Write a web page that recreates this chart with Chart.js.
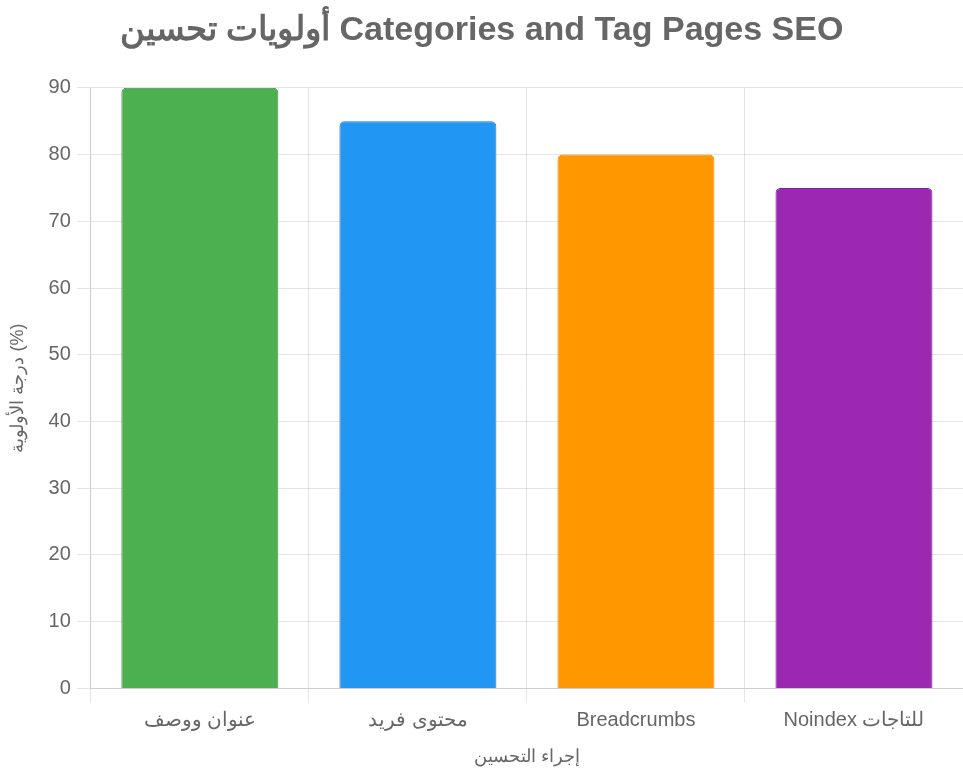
<!DOCTYPE html>
<html>
<head>
<meta charset="utf-8">
<script src="https://cdn.jsdelivr.net/npm/chart.js@4"></script>
<style>
  html, body { margin: 0; padding: 0; background: #fff; }
  #wrap { width: 963px; height: 779px; }
</style>
</head>
<body>
<div id="wrap"><canvas id="seoChart"></canvas></div>
<script>
  "use strict";

  var categories = ['عنوان ووصف', 'محتوى فريد', 'Breadcrumbs', 'Noindex للتاجات'];
  var priorityValues = [90, 85, 80, 75];
  var barColors = ['#4CAF50', '#2196F3', '#FF9800', '#9C27B0'];
  var barBorders = ['#388E3C', '#1976D2', '#F57C00', '#7B1FA2'];

  Chart.defaults.font.family = '"Liberation Sans", Arial, sans-serif';
  Chart.defaults.color = '#666';

  var ctx = document.getElementById('seoChart').getContext('2d');
  window.seoChart = new Chart(ctx, {
    type: 'bar',
    data: {
      labels: categories,
      datasets: [{
        label: 'درجة الأولوية',
        data: priorityValues,
        backgroundColor: barColors,
        borderColor: barBorders,
        borderWidth: 1,
        borderRadius: 5
      }]
    },
    options: {
      responsive: true,
      maintainAspectRatio: false,
      animation: false,
      layout: { padding: { left: 0, right: 0, top: 0, bottom: 7 } },
      plugins: {
        legend: { display: false },
        title: {
          display: true,
          text: 'أولويات تحسين Categories and Tag Pages SEO',
          color: '#666',
          font: { size: 34, weight: 'bold' },
          padding: { top: 10, bottom: 37 }
        }
      },
      scales: {
        x: {
          grid: { tickLength: 14 },
          ticks: { font: { size: 20 }, color: '#666', padding: 6 },
          title: {
            display: true,
            text: 'إجراء التحسين',
            font: { size: 18 },
            color: '#666',
            padding: { top: 8, bottom: 4 }
          }
        },
        y: {
          beginAtZero: true,
          max: 90,
          grid: { tickLength: 14 },
          ticks: { stepSize: 10, font: { size: 20 }, color: '#666', padding: 6 },
          title: {
            display: true,
            text: 'درجة الأولوية (%)',
            font: { size: 18 },
            color: '#666',
            padding: { top: 7, bottom: 14 }
          }
        }
      }
    }
  });
</script>
</body>
</html>
